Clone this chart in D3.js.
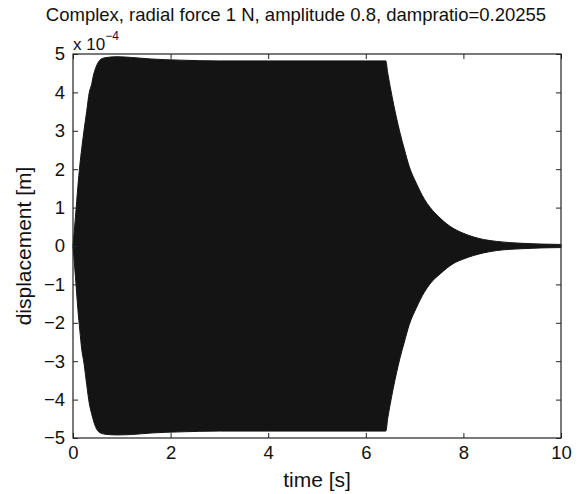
<!DOCTYPE html>
<html>
<head>
<meta charset="utf-8">
<script src="https://cdn.jsdelivr.net/npm/d3@7"></script>
<style>
  body { margin: 0; background: #fff; }
  svg text { font-family: "Liberation Sans", Arial, sans-serif; fill: #111; }
</style>
</head>
<body>
<div id="chart-area"></div>
<script>
// envelope of the oscillation (displacement in units of 1e-4 m)
var time  = [0, 0.05, 0.1, 0.14, 0.18, 0.225, 0.28, 0.334, 0.38, 0.42, 0.46, 0.5, 0.55, 0.65, 0.9, 1.2, 1.6, 2.2, 3.0, 4.0, 5.0, 6.0, 6.41, 6.45, 6.5, 6.56, 6.63, 6.7, 6.79, 6.89, 7.04, 7.2, 7.32, 7.52, 7.79, 8.0, 8.41, 8.68, 9.2, 9.6, 10];
var upper = [0, 0.75, 1.55, 2.1, 2.55, 3.0, 3.5, 4.0, 4.2, 4.45, 4.62, 4.74, 4.84, 4.9, 4.93, 4.91, 4.87, 4.84, 4.82, 4.82, 4.82, 4.82, 4.82, 4.5, 4.15, 3.75, 3.33, 2.95, 2.52, 2.07, 1.62, 1.22, 1.0, 0.73, 0.46, 0.33, 0.17, 0.12, 0.07, 0.05, 0.04];
var lower = [0, -0.8, -1.65, -2.2, -2.7, -3.05, -3.6, -4.1, -4.36, -4.55, -4.7, -4.8, -4.86, -4.9, -4.92, -4.91, -4.87, -4.84, -4.82, -4.82, -4.82, -4.82, -4.82, -4.48, -4.12, -3.72, -3.3, -2.92, -2.5, -2.05, -1.6, -1.2, -0.98, -0.73, -0.46, -0.34, -0.18, -0.12, -0.07, -0.05, -0.04];

var xTicks = [0, 2, 4, 6, 8, 10];
var yTicks = [-5, -4, -3, -2, -1, 0, 1, 2, 3, 4, 5];

var title = "Complex, radial force 1 N, amplitude 0.8, dampratio=0.20255";

var width = 583, height = 494;
var margin = {left: 73, right: 22, top: 54, bottom: 56};
var plot_w = width - margin.left - margin.right;
var plot_h = height - margin.top - margin.bottom;

var svg = d3.select("#chart-area").append("svg")
	.attr("width", width)
	.attr("height", height);

var x = d3.scaleLinear().domain([0, 10]).range([margin.left, margin.left + plot_w]);
var y = d3.scaleLinear().domain([-5, 5]).range([margin.top + plot_h, margin.top]);

var env = time.map(function(t, i){
	return {t: t, hi: upper[i], lo: lower[i]};
});

var area = d3.area()
	.x(function(d){ return x(d.t); })
	.y0(function(d){ return y(d.lo); })
	.y1(function(d){ return y(d.hi); })
	.curve(d3.curveMonotoneX);

svg.append("path")
	.datum(env)
	.attr("d", area)
	.style("fill", "#141414")
	.style("stroke", "#141414")
	.style("stroke-width", 1);

// axes, ticks inward on all four sides like matlab
var fmt = d3.format("d");
var axisBottom = d3.axisBottom(x).tickValues(xTicks).tickSize(-5).tickPadding(8).tickFormat(fmt);
var axisTop = d3.axisTop(x).tickValues(xTicks).tickSize(-5).tickFormat("");
var axisLeft = d3.axisLeft(y).tickValues(yTicks).tickSize(-5).tickPadding(8).tickFormat(fmt);
var axisRight = d3.axisRight(y).tickValues(yTicks).tickSize(-5).tickFormat("");

function styleAxis(g){
	g.select(".domain").remove();
	g.selectAll("line").style("stroke", "#222").style("stroke-width", 1);
	g.selectAll("text").style("font-size", "18.5px").style("fill", "#111")
		.style("font-family", "Liberation Sans, Arial, sans-serif");
}

svg.append("g").attr("transform", "translate(0," + (margin.top + plot_h) + ")").call(axisBottom).call(styleAxis);
svg.append("g").attr("transform", "translate(0," + margin.top + ")").call(axisTop).call(styleAxis);
svg.append("g").attr("transform", "translate(" + margin.left + ",0)").call(axisLeft).call(styleAxis);
svg.append("g").attr("transform", "translate(" + (margin.left + plot_w) + ",0)").call(axisRight).call(styleAxis);

svg.append("rect")
	.attr("x", margin.left)
	.attr("y", margin.top)
	.attr("width", plot_w)
	.attr("height", plot_h)
	.style("fill", "none")
	.style("stroke", "#222")
	.style("stroke-width", 1.2);

// title and labels
svg.append("text")
	.attr("x", 296)
	.attr("y", 21)
	.attr("text-anchor", "middle")
	.style("font-size", "18.5px")
	.text(title);

var expo = svg.append("text")
	.attr("x", 73)
	.attr("y", 50)
	.style("font-size", "17px");
expo.append("tspan").text("x 10");
expo.append("tspan").attr("dy", -10).style("font-size", "12px").text("\u22124");

svg.append("text")
	.attr("x", margin.left + plot_w / 2)
	.attr("y", 487)
	.attr("text-anchor", "middle")
	.style("font-size", "21px")
	.text("time [s]");

svg.append("text")
	.attr("transform", "translate(31," + (margin.top + plot_h / 2) + ") rotate(-90)")
	.attr("text-anchor", "middle")
	.style("font-size", "21px")
	.text("displacement [m]");
</script>
</body>
</html>
